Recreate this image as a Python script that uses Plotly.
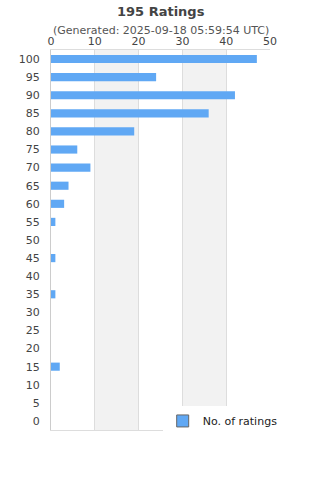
import plotly.graph_objects as go

ratings = [str(v) for v in range(0, 105, 5)]
counts = [0, 0, 0, 2, 0, 0, 0, 1, 0, 1, 0, 1, 3, 4, 9, 6, 19, 36, 42, 24, 47]
x_ticks = [0, 10, 20, 30, 40, 50]
bands = [(10, 20), (30, 40)]

fig = go.Figure()
fig.add_trace(go.Bar(
    y=ratings, x=counts, orientation="h",
    marker=dict(color="#60a8f4", line=dict(width=0)),
    width=0.45, showlegend=False, hoverinfo="x+y",
))
fig.add_trace(go.Bar(
    y=[None], x=[None], orientation="h", name="No. of ratings",
    marker=dict(color="#60a8f4", line=dict(color="#666666", width=1)),
    showlegend=True,
))

shapes = []
for a, b in bands:
    shapes.append(dict(type="rect", xref="x", yref="paper", x0=a, x1=b, y0=0, y1=1,
                       fillcolor="#f2f2f2", line=dict(width=0), layer="below"))

fig.update_layout(
    width=320, height=480,
    margin=dict(l=51, r=50, t=50, b=50),
    paper_bgcolor="white", plot_bgcolor="white",
    font=dict(family="DejaVu Sans", color="#444444", size=11),
    shapes=shapes,
    bargap=0.55,
    annotations=[
        dict(text="<b>195 Ratings</b>", xref="paper", yref="paper", x=0.5, y=1,
             xanchor="center", yanchor="middle", yshift=39, showarrow=False,
             font=dict(size=13, color="#444444")),
        dict(text="(Generated: 2025-09-18 05:59:54 UTC)", xref="paper", yref="paper",
             x=0.5, y=1, xanchor="center", yanchor="middle", yshift=20, showarrow=False,
             font=dict(size=11, color="#555555")),
    ],
    xaxis=dict(side="top", range=[0, 50], tickvals=x_ticks, showgrid=True,
               gridcolor="#dddddd", gridwidth=1, zeroline=False, showline=True,
               linecolor="#dddddd", mirror=True, ticks="", ticklen=0,
               tickfont=dict(size=11, color="#444444")),
    yaxis=dict(type="category", categoryorder="array", categoryarray=ratings,
               showgrid=False, showline=True, linecolor="#cccccc", ticks="",
               ticklabelstandoff=8,
               tickfont=dict(size=11, color="#444444")),
    legend=dict(x=0.51, y=0.062, xanchor="left", yanchor="top", bgcolor="white",
                font=dict(size=11, color="#222222")),
)

fig.write_html("out.html")
